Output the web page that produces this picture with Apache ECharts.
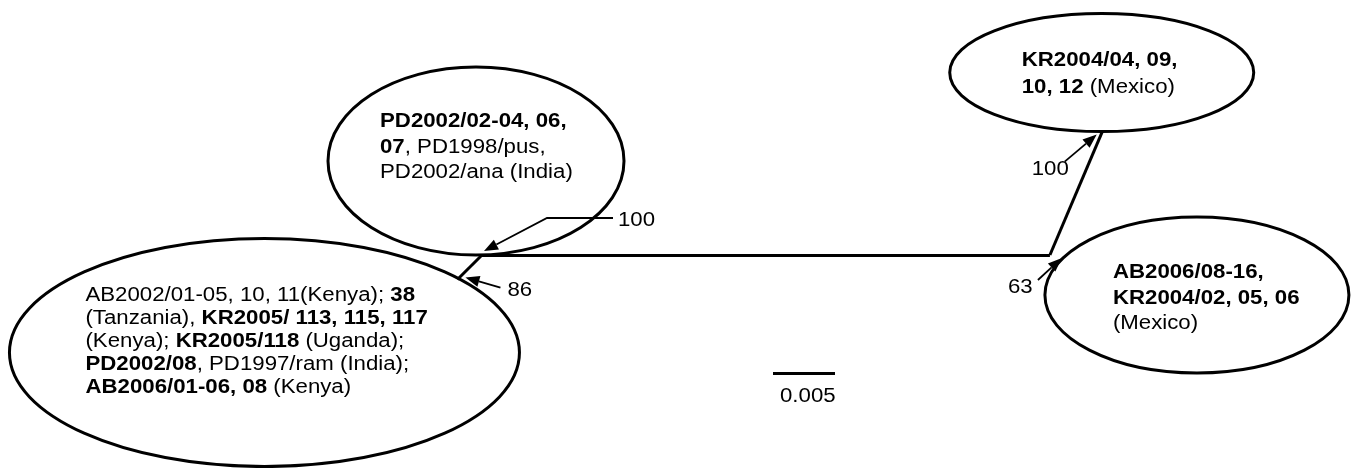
<!DOCTYPE html>
<html>
<head>
<meta charset="utf-8">
<title>Unrooted tree</title>
<script src="https://cdn.jsdelivr.net/npm/echarts@6/dist/echarts.min.js"></script>
<style>
  html, body { margin: 0; padding: 0; background: #fff; }
  #tree-chart { width: 1351px; height: 468px; }
</style>
</head>
<body>
<div id="tree-chart"></div>
<script>
// tree: node, parent, branch length (subst./site), drawing angle (deg)
const nodeNames = ["root", "eastAfrica", "india", "mexico", "kr2004", "ab2006"];
const nodeParents = [null, "root", "root", "root", "mexico", "mexico"];
const branchLengths = [0, 0.0028, 0, 0.0458, 0.0109, 0];
const branchAngles = [0, 225, 90, 0, 67, 0];

// clusters drawn as ellipses
const clusterNodes = ["eastAfrica", "india", "kr2004", "ab2006"];
const clusterLabels = [
  "{n|AB2002/01-05, 10, 11(Kenya); }{b|38}\n{n|(Tanzania), }{b|KR2005/ 113, 115, 117}\n{n|(Kenya); }{b|KR2005/118}{n| (Uganda);}\n{b|PD2002/08}{n|, PD1997/ram (India);}\n{b|AB2006/01-06, 08}{n| (Kenya)}",
  "{b|PD2002/02-04, 06,}\n{b|07}{n|, PD1998/pus,}\n{n|PD2002/ana (India)}",
  "{b|KR2004/04, 09,}\n{b|10, 12}{n| (Mexico)}",
  "{b|AB2006/08-16,}\n{b|KR2004/02, 05, 06}\n{n|(Mexico)}"
];

// bootstrap support
const bootstrapNodes = ["root", "eastAfrica", "mexico", "kr2004"];
const bootstrapValues = [100, 86, 63, 100];

// scale bar
const scaleBarLength = 0.005;
const scaleBarLabel = "0.005";

// ---- layout (pixels) ----
const PX = scaleBarLength / 62; // one pixel in subst./site
const ROOT_PX = [482, 255];
const W = 1351, H = 468;

// ellipse centre offset from node, radii, text offset from centre, line height
const clusterLayout = [
  { dx: -193, dy: 73, rx: 255, ry: 114, tx: -179, ty: -57, lh: 23 },
  { dx: -6, dy: -94, rx: 148, ry: 94, tx: -96, ty: -39, lh: 25.3 },
  { dx: -1, dy: -58, rx: 152, ry: 59, tx: -80, ty: -12, lh: 26.7 },
  { dx: 147, dy: 40, rx: 152, ry: 78, tx: -84, ty: -22.5, lh: 25.7 }
];
// arrow tip offset from node; path points and label relative to tip
const bootstrapLayout = [
  { dx: 2, dy: -4, path: [[129, -33], [63, -33]], label: [134, -30.5] },
  { dx: 8, dy: -2, path: [[35, 10]], label: [42, 13] },
  { dx: 12, dy: 3, path: [[-24, 22]], label: [-54, 30] },
  { dx: -6, dy: 4, path: [[-32, 27]], label: [-65, 35] }
];
const scaleBarPx = { x: 773, y: 373, labelDx: 7, labelDy: 24 };

const FONT = '"Liberation Sans", Arial, sans-serif';
const FONT_SIZE = 19.5;
const STRETCH = 1.14;

// node positions from branch lengths
const pos = {};
nodeNames.forEach((name, i) => {
  const parent = nodeParents[i];
  if (!parent) {
    pos[name] = [0, 0];
    return;
  }
  const p = pos[parent];
  const a = (branchAngles[i] * Math.PI) / 180;
  pos[name] = [p[0] + branchLengths[i] * Math.cos(a), p[1] + branchLengths[i] * Math.sin(a)];
});
const offset = (p, dx, dy) => [p[0] + dx * PX, p[1] - dy * PX];

const branchData = [];
nodeNames.forEach((name, i) => {
  if (nodeParents[i] && branchLengths[i] > 0) {
    branchData.push({ coords: [pos[nodeParents[i]], pos[name]] });
  }
});

const clusterData = clusterNodes.map((n, i) => {
  const l = clusterLayout[i];
  const c = offset(pos[n], l.dx, l.dy);
  return [c[0], c[1], l.rx * 2 * PX, l.ry * 2 * PX];
});

const bootstrapData = bootstrapNodes.map((n, i) => {
  const l = bootstrapLayout[i];
  return offset(pos[n], l.dx, l.dy);
});

const sbStart = offset(pos.root, scaleBarPx.x - ROOT_PX[0], scaleBarPx.y - ROOT_PX[1]);
const sbEnd = [sbStart[0] + scaleBarLength, sbStart[1]];

function rich(lh) {
  const base = { fontFamily: FONT, fontSize: FONT_SIZE, lineHeight: lh, fill: "#000" };
  return {
    n: Object.assign({ fontWeight: "normal" }, base),
    b: Object.assign({ fontWeight: "bold" }, base)
  };
}

const myChart = echarts.init(document.getElementById("tree-chart"));

const option = {
  animation: false,
  grid: { left: 0, right: 0, top: 0, bottom: 0 },
  xAxis: {
    type: "value",
    min: -ROOT_PX[0] * PX,
    max: (W - ROOT_PX[0]) * PX,
    show: false
  },
  yAxis: {
    type: "value",
    min: -(H - ROOT_PX[1]) * PX,
    max: ROOT_PX[1] * PX,
    show: false
  },
  series: [
    {
      // branches
      type: "lines",
      coordinateSystem: "cartesian2d",
      polyline: false,
      symbol: "none",
      lineStyle: { color: "#000", width: 3, opacity: 1 },
      data: branchData
    },
    {
      // scale bar
      type: "lines",
      coordinateSystem: "cartesian2d",
      symbol: "none",
      lineStyle: { color: "#000", width: 3, opacity: 1 },
      data: [{ coords: [sbStart, sbEnd] }]
    },
    {
      // clusters
      type: "custom",
      data: clusterData,
      renderItem: function (params, api) {
        const i = params.dataIndex;
        const l = clusterLayout[i];
        const c = api.coord([api.value(0), api.value(1)]);
        const r = api.size([api.value(2), api.value(3)]);
        return {
          type: "group",
          children: [
            {
              type: "ellipse",
              shape: { cx: c[0], cy: c[1], rx: r[0] / 2, ry: r[1] / 2 },
              style: { fill: "none", stroke: "#000", lineWidth: 3 }
            },
            {
              type: "text",
              x: c[0] + l.tx,
              y: c[1] + l.ty - l.lh / 2,
              scaleX: STRETCH,
              style: {
                text: clusterLabels[i],
                rich: rich(l.lh),
                fontFamily: FONT,
                fontSize: FONT_SIZE,
                lineHeight: l.lh,
                fill: "#000",
                align: "left",
                verticalAlign: "top"
              }
            }
          ]
        };
      }
    },
    {
      // bootstrap arrows
      type: "custom",
      data: bootstrapData,
      renderItem: function (params, api) {
        const i = params.dataIndex;
        const l = bootstrapLayout[i];
        const tip = api.coord([api.value(0), api.value(1)]);
        const pts = l.path.map((p) => [tip[0] + p[0], tip[1] + p[1]]);
        const last = pts[pts.length - 1];
        const ang = Math.atan2(tip[1] - last[1], tip[0] - last[0]);
        const len = 14, half = 5.5;
        const bx = tip[0] - len * Math.cos(ang), by = tip[1] - len * Math.sin(ang);
        const head = [
          tip,
          [bx + half * Math.sin(ang), by - half * Math.cos(ang)],
          [bx - half * Math.sin(ang), by + half * Math.cos(ang)]
        ];
        return {
          type: "group",
          children: [
            {
              type: "polyline",
              shape: { points: pts.concat([[bx, by]]) },
              style: { fill: "none", stroke: "#000", lineWidth: 1.8 }
            },
            { type: "polygon", shape: { points: head }, style: { fill: "#000" } },
            {
              type: "text",
              x: tip[0] + l.label[0],
              y: tip[1] + l.label[1],
              scaleX: STRETCH,
              style: {
                text: String(bootstrapValues[i]),
                fontFamily: FONT,
                fontSize: FONT_SIZE,
                fill: "#000",
                align: "left",
                verticalAlign: "middle"
              }
            }
          ]
        };
      }
    },
    {
      // scale bar label
      type: "custom",
      data: [sbStart],
      renderItem: function (params, api) {
        const c = api.coord([api.value(0), api.value(1)]);
        return {
          type: "text",
          x: c[0] + scaleBarPx.labelDx,
          y: c[1] + scaleBarPx.labelDy,
          scaleX: STRETCH,
          style: {
            text: scaleBarLabel,
            fontFamily: FONT,
            fontSize: FONT_SIZE,
            fill: "#000",
            align: "left",
            verticalAlign: "middle"
          }
        };
      }
    }
  ]
};

myChart.setOption(option);

window.addEventListener("resize", () => {
  myChart.resize();
});
</script>
</body>
</html>
